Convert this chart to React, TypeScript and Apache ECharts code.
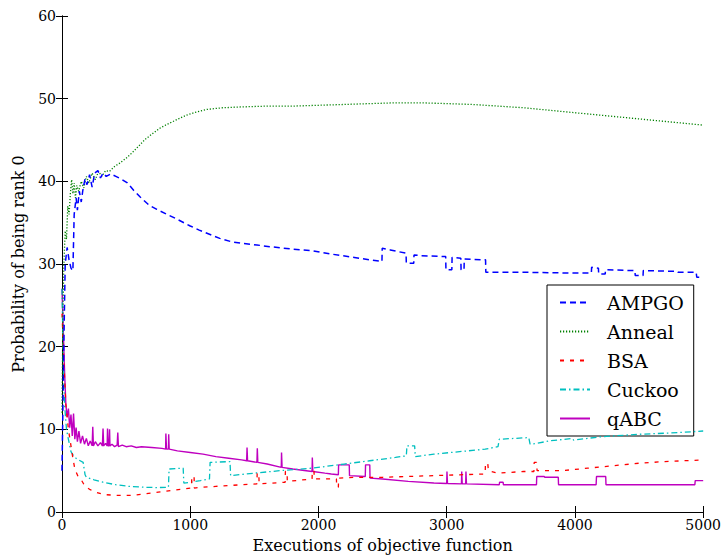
import React, { useEffect, useRef } from "react";
import * as echarts from "echarts";

const xTicks = [0, 1000, 2000, 3000, 4000, 5000];
const yTicks = [0, 10, 20, 30, 40, 50, 60];
const seriesNames = ["AMPGO", "Anneal", "BSA", "Cuckoo", "qABC"];

const ampgo: [number, number][] = [
  [0, 5], [12, 18], [25, 30], [40, 32], [55, 30.5], [70, 29.5], [85, 29.2], [95, 36], [110, 38], [120, 36.5],
  [135, 38.8], [150, 37.5], [165, 39.2], [180, 40.3], [195, 39.6], [215, 40.8], [235, 39.3], [255, 41], [280, 41.3],
  [300, 40.4], [320, 41], [345, 40.6], [380, 40.9], [420, 40.6], [460, 40.3], [510, 39.8], [560, 38.9], [610, 38.1],
  [680, 37.1], [740, 36.6], [820, 36], [900, 35.4], [1000, 34.6], [1070, 34.1], [1150, 33.6], [1230, 33.1], [1320, 32.7],
  [1400, 32.5], [1520, 32.3], [1620, 32.1], [1800, 31.8], [1950, 31.6], [2100, 31.2], [2280, 30.8], [2400, 30.5],
  [2495, 30.3], [2497, 31.9], [2560, 31.7], [2683, 31.3], [2685, 30.1], [2743, 30.1], [2745, 31.1], [2800, 31.0],
  [2992, 30.9], [2994, 29.3], [3040, 29.3], [3042, 30.8], [3110, 30.7], [3112, 29.3], [3135, 29.3], [3137, 30.6],
  [3303, 30.5], [3305, 29.0], [3600, 29.0], [4000, 28.9], [4128, 28.9], [4130, 29.6], [4183, 29.5], [4185, 28.8],
  [4236, 28.8], [4238, 29.3], [4468, 29.2], [4470, 28.6], [4531, 28.6], [4533, 29.2], [4800, 29.1], [4805, 29.0],
  [4945, 29.0], [4950, 28.4], [5000, 28.4],
];

const anneal: [number, number][] = [
  [0, 12], [8, 25], [15, 30], [25, 34], [35, 33], [45, 37], [55, 36], [65, 38.5], [75, 40.2], [85, 38.5], [95, 39.8],
  [105, 38], [115, 39.5], [130, 38.8], [150, 40], [170, 39.2], [190, 40.6], [210, 39.8], [235, 41], [260, 40.2],
  [285, 41.2], [310, 40.6], [340, 41.3], [370, 41.2], [410, 41.8], [450, 42.2], [500, 42.8], [550, 43.5], [600, 44.3],
  [650, 45.1], [700, 45.7], [760, 46.4], [820, 46.9], [900, 47.5], [970, 48], [1050, 48.4], [1130, 48.7], [1250, 48.9],
  [1400, 49], [1600, 49.1], [1800, 49.1], [2000, 49.2], [2200, 49.3], [2400, 49.4], [2600, 49.5], [2800, 49.5],
  [3000, 49.4], [3200, 49.3], [3400, 49.1], [3600, 48.9], [3800, 48.6], [4000, 48.3], [4200, 48.0], [4400, 47.7],
  [4600, 47.4], [4800, 47.1], [5000, 46.8],
];

const bsa: [number, number][] = [
  [0, 24], [15, 18], [30, 13], [50, 10], [70, 8], [85, 6.5], [100, 5.2], [125, 4.3], [150, 3.9], [180, 3.1], [220, 2.7],
  [260, 2.4], [330, 2.1], [450, 2.0], [550, 2.0], [650, 2.2], [750, 2.4], [850, 2.6], [950, 2.8], [1010, 2.9],
  [1012, 4.3], [1030, 4.3], [1032, 2.9], [1100, 3.0], [1200, 3.1], [1300, 3.2], [1400, 3.3], [1520, 3.4], [1522, 4.7],
  [1535, 4.7], [1537, 3.4], [1740, 3.6], [1742, 4.9], [1755, 4.9], [1757, 3.7], [1950, 4.0], [1952, 5.0], [1965, 5.0],
  [1967, 4.0], [2140, 4.0], [2142, 3.0], [2155, 3.0], [2157, 4.1], [2300, 4.2], [2500, 4.2], [2700, 4.3], [2900, 4.4],
  [3100, 4.5], [3300, 4.6], [3302, 5.9], [3320, 5.9], [3325, 5.0], [3400, 4.7], [3600, 4.9], [3680, 4.9], [3682, 6.0],
  [3700, 6.0], [3705, 5.0], [3900, 5.0], [4100, 5.3], [4300, 5.6], [4500, 5.9], [4700, 6.1], [5000, 6.3],
];

const cuckoo: [number, number][] = [
  [0, 27], [10, 18], [20, 13], [35, 10], [50, 8.8], [70, 7.3], [90, 6.8], [110, 6.5], [130, 6.3], [165, 6.0],
  [180, 4.5], [190, 4.2], [250, 3.9], [320, 3.6], [420, 3.3], [520, 3.1], [640, 3.0], [740, 2.95], [830, 3.0],
  [835, 5.2], [945, 5.3], [950, 3.5], [1000, 3.6], [1080, 3.8], [1150, 4.0], [1155, 6.0], [1310, 6.1], [1315, 4.4],
  [1500, 4.7], [1700, 5.0], [1950, 5.3], [2200, 5.8], [2400, 6.2], [2600, 6.6], [2685, 6.8], [2690, 8.0], [2750, 8.0],
  [2755, 6.7], [2900, 7.0], [3100, 7.3], [3300, 7.6], [3400, 7.9], [3410, 8.8], [3640, 9.0], [3650, 8.2], [3700, 8.3],
  [3800, 8.6], [3980, 8.9], [3990, 8.7], [4200, 9.1], [4500, 9.4], [4800, 9.6], [5000, 9.8],
];

const qabc: [number, number][] = [
  [0, 27], [10, 22], [20, 17], [30, 13], [40, 11.5], [50, 12.5], [60, 10.2], [70, 11.8], [80, 9.2], [90, 11.9],
  [100, 8.8], [110, 10.2], [120, 8.5], [132, 9.8], [145, 8.3], [160, 9.2], [175, 8.2], [190, 8.9], [205, 8.0],
  [220, 8.6], [235, 8.0], [240, 10.3], [245, 8.0], [260, 8.5], [280, 8.0], [300, 8.4], [315, 8.0], [320, 10.1],
  [325, 8.0], [340, 8.3], [352, 8.0], [355, 10.1], [360, 8.0], [368, 8.0], [371, 10.0], [374, 8.0], [390, 8.2],
  [410, 7.9], [430, 8.1], [435, 9.6], [440, 7.9], [470, 8.1], [500, 7.9], [540, 8.0], [580, 7.8], [620, 7.9],
  [700, 7.8], [780, 7.7], [808, 7.6], [810, 9.5], [815, 7.6], [830, 7.6], [832, 9.4], [836, 7.6], [900, 7.4],
  [1000, 7.2], [1100, 7.0], [1200, 6.7], [1300, 6.5], [1400, 6.3], [1440, 6.2], [1443, 7.8], [1447, 6.2], [1520, 6.0],
  [1523, 7.7], [1527, 6.0], [1600, 5.8], [1710, 5.4], [1712, 7.2], [1716, 5.4], [1800, 5.2], [1950, 4.9], [1952, 6.6],
  [1956, 4.9], [2050, 4.7], [2100, 4.6], [2155, 4.5], [2157, 5.7], [2240, 5.7], [2242, 4.4], [2365, 4.3], [2367, 5.7],
  [2400, 5.7], [2402, 4.1], [2500, 4.0], [2700, 3.7], [2900, 3.5], [3000, 3.45], [3002, 4.9], [3006, 3.45],
  [3115, 3.4], [3117, 4.9], [3121, 3.4], [3148, 3.4], [3150, 4.9], [3154, 3.4], [3410, 3.3], [3412, 3.6], [3440, 3.6],
  [3442, 3.3], [3700, 3.3], [3702, 4.3], [3760, 4.3], [3765, 4.2], [3870, 4.2], [3872, 3.3], [4165, 3.3], [4168, 4.3],
  [4240, 4.3], [4242, 3.3], [4935, 3.3], [4938, 3.8], [5000, 3.8],
];

const seriesData = [ampgo, anneal, bsa, cuckoo, qabc];
const colors = ["#0000ff", "#008000", "#ff0000", "#00bfbf", "#bf00bf"];
const dashes: any[] = [[6, 4], [1.2, 1.8], [4, 6], [6, 3, 1.5, 3], "solid"];
const widths = [1.5, 1.3, 1.3, 1.3, 1.4];

const FONT = "'DejaVu Serif', 'Liberation Serif', serif";

export default function App() {
  const ref = useRef<HTMLDivElement>(null);
  useEffect(() => {
    if (!ref.current) return;
    const chart = echarts.init(ref.current, null, { renderer: "svg" });
    const axisCommon = {
      type: "value" as const,
      axisLine: { show: true, lineStyle: { color: "#000", width: 1 } },
      axisTick: { show: true, inside: true, length: 6, lineStyle: { color: "#000" } },
      splitLine: { show: false },
    };
    const plain = (v: number) => String(v);
    chart.setOption({
      animation: false,
      backgroundColor: "#fff",
      textStyle: { fontFamily: FONT },
      grid: { left: 62, right: 18, top: 16, bottom: 45, containLabel: false },
      legend: {
        orient: "vertical",
        left: 547,
        top: 285,
        data: seriesNames,
        backgroundColor: "#fff",
        borderColor: "#000",
        borderWidth: 1,
        padding: [8, 10, 8, 12],
        itemWidth: 30,
        itemHeight: 14,
        itemGap: 10,
        itemStyle: { opacity: 0 },
        textStyle: {
          fontFamily: FONT,
          fontSize: 19,
          lineHeight: 18,
          color: "#000",
          padding: [0, 0, 0, 12],
        },
      },
      xAxis: [
        {
          ...axisCommon,
          min: xTicks[0],
          max: xTicks[xTicks.length - 1],
          interval: 1000,
          position: "bottom",
          name: "Executions of objective function",
          nameLocation: "middle",
          nameGap: 25,
          nameTextStyle: { fontFamily: FONT, fontSize: 16, color: "#000" },
          axisLabel: { fontFamily: FONT, fontSize: 14, color: "#000", margin: 6, formatter: plain },
        },
        {
          ...axisCommon,
          min: xTicks[0],
          max: xTicks[xTicks.length - 1],
          interval: 1000,
          position: "top",
          axisLabel: { show: false },
        },
      ],
      yAxis: [
        {
          ...axisCommon,
          min: yTicks[0],
          max: yTicks[yTicks.length - 1],
          interval: 10,
          position: "left",
          name: "Probability of being rank 0",
          nameLocation: "middle",
          nameGap: 36,
          nameTextStyle: { fontFamily: FONT, fontSize: 16, color: "#000" },
          axisLabel: { fontFamily: FONT, fontSize: 14, color: "#000", margin: 6, formatter: plain },
        },
        {
          ...axisCommon,
          min: yTicks[0],
          max: yTicks[yTicks.length - 1],
          interval: 10,
          position: "right",
          axisLabel: { show: false },
        },
      ],
      series: seriesNames.map((name, i) => ({
        name,
        type: "line",
        data: seriesData[i],
        showSymbol: false,
        symbol: "none",
        color: colors[i],
        lineStyle: { color: colors[i], width: widths[i], type: dashes[i] },
        z: 10 - i,
      })),
    });
    return () => chart.dispose();
  }, []);
  return (
    <div
      ref={ref}
      style={{ position: "fixed", left: 0, top: 0, width: 724, height: 558 }}
    />
  );
}
